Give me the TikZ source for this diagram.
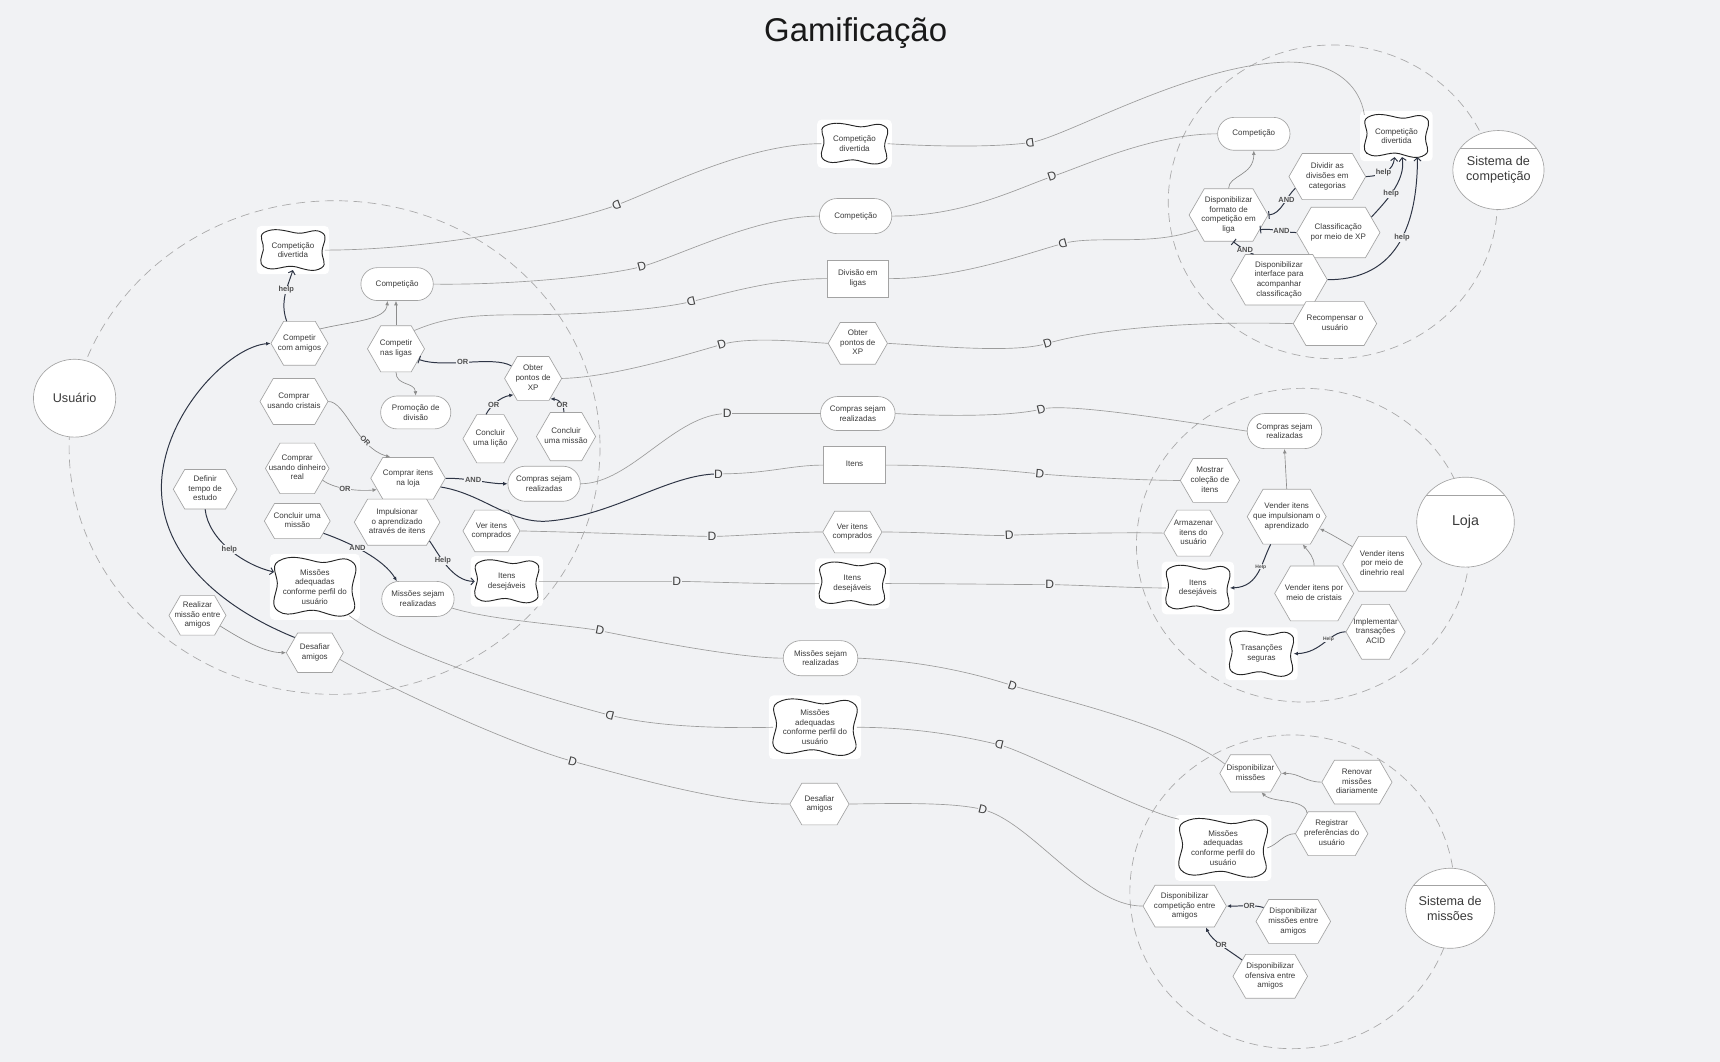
\documentclass[tikz,border=0pt]{standalone}
\usepackage{fontspec}
\setmainfont{Liberation Sans}
\usetikzlibrary{shapes.geometric,shapes.symbols,shapes.misc,arrows.meta}
\definecolor{bg}{HTML}{F1F2F4}
\definecolor{nodeb}{HTML}{A3A3A3}
\definecolor{txt}{HTML}{3A3A3A}
\definecolor{depc}{HTML}{9C9C9C}
\definecolor{lnkc}{HTML}{8C8C8C}
\definecolor{dark}{HTML}{2E3545}
\definecolor{lblc}{HTML}{505050}
\definecolor{bnd}{HTML}{A8A8A8}
\newcommand{\nf}{\fontsize{7.3}{8.8}\selectfont}
\newcommand{\hx}[1]{\makebox[0pt]{\begin{tabular}{@{}c@{}}#1\end{tabular}}}
\newcommand{\sgoal}[6]{%
  \fill[white,rounded corners=4pt] ({#2-#4/2-4},{#3-#5/2-4}) rectangle ({#2+#4/2+4},{#3+#5/2+4});
  \draw[sgline,fill=white,shift={(#2,#3)},xscale=#4/2,yscale=#5/2]
    (-0.9,0.85) .. controls (-0.6,1.15) and (-0.25,0.7) .. (0.1,0.85)
    .. controls (0.4,0.98) and (0.65,1.15) .. (0.9,0.9)
    .. controls (1.1,0.7) and (0.88,0.4) .. (0.92,0)
    .. controls (0.96,-0.4) and (1.12,-0.7) .. (0.9,-0.9)
    .. controls (0.65,-1.15) and (0.4,-0.75) .. (0.05,-0.88)
    .. controls (-0.3,-1.0) and (-0.6,-1.15) .. (-0.9,-0.9)
    .. controls (-1.12,-0.7) and (-0.88,-0.35) .. (-0.93,0)
    .. controls (-0.98,0.35) and (-1.1,0.65) .. cycle;
  \node[font=\nf,text=txt,align=center,inner sep=0pt,minimum width=#4,minimum height=#5] (#1) at (#2,#3) {#6};
}
\tikzset{
 base/.style={draw=nodeb, fill=white, line width=0.6pt, align=center, inner sep=0pt, font=\nf, text=txt},
 task/.style={base, signal, signal to=east and west, signal pointer angle=120},
 goal/.style={base, rounded rectangle},
 res/.style={base, rectangle},
 actor/.style={draw=nodeb, fill=white, line width=0.6pt, ellipse, align=center, font=\fontsize{11.5}{13.5}\selectfont, text=txt, inner sep=0pt},
 bound/.style={draw=bnd, line width=0.6pt, dash pattern=on 8pt off 5pt},
 dep/.style={draw=depc, line width=0.6pt},
 lnk/.style={draw=lnkc, line width=0.6pt},
 dk/.style={draw=dark, line width=0.9pt},
 Dl/.style={sloped, font=\fontsize{11}{11}\selectfont, text=black!75, fill=bg, inner sep=0.4pt},
 lbl/.style={font=\bfseries\fontsize{6.8}{8}\selectfont, text=lblc, fill=bg, inner sep=0.6pt},
 tinylbl/.style={font=\bfseries\fontsize{4.5}{5}\selectfont, text=lblc, fill=bg, inner sep=0.3pt},
 arr/.style={-{Latex[length=4pt,width=3.5pt]}},
 harr/.style={-{Straight Barb[length=3pt,width=6.5pt]}},
 barend/.style={-{Bar[width=7pt]}},
 sgline/.style={draw=black!85, line width=0.85pt}
}
\begin{document}
\begin{tikzpicture}[x=1pt,y=-1pt]
\fill[bg] (0,0) rectangle (1568,968);
\useasboundingbox (0,0) rectangle (1568,968);

\node[font=\fontsize{30}{36}\selectfont, text=black!90] (title) at (780,30) {Gamificação};

% boundaries
\draw[bound] (305,408) ellipse [x radius=242, y radius=225];
\draw[bound] (1215,184) ellipse [x radius=150, y radius=143];
\draw[bound] (1188,497) ellipse [x radius=152, y radius=143];
\draw[bound] (1178,813) ellipse [x radius=148, y radius=143];

% actors
\node[actor, minimum width=75, minimum height=71] (a-usuario) at (68,363) {Usuário};
\node[actor, minimum width=76, minimum height=72] (a-sc) at (1366,155) {Sistema de\\competição};
\draw[nodeb,line width=0.6pt] (a-sc.150) -- (a-sc.30);
\node[actor, minimum width=89, minimum height=82, font=\fontsize{13}{15}\selectfont] (a-loja) at (1336,476) {Loja};
\draw[nodeb,line width=0.6pt] (a-loja.146) -- (a-loja.34);
\node[actor, minimum width=77, minimum height=73] (a-missoes) at (1322,828) {Sistema de\\missões};
\draw[nodeb,line width=0.6pt] (a-missoes.148) -- (a-missoes.32);

% Usuario nodes
\sgoal{u-cd}{267}{228}{58}{36}{Competição\\divertida}
\node[goal, minimum width=66, minimum height=30] (u-comp) at (362,259) {Competição};
\node[task, minimum width=52, minimum height=40] (u-cca) at (273,313) {\hx{Competir\\com amigos}};
\node[task, minimum width=52, minimum height=42] (u-cnl) at (361,318) {\hx{Competir\\nas ligas}};
\node[task, minimum width=52, minimum height=40] (u-xp) at (486,345) {\hx{Obter\\pontos de\\XP}};
\node[goal, minimum width=64, minimum height=30] (u-prom) at (379,376) {Promoção de\\divisão};
\node[task, minimum width=50, minimum height=44] (u-licao) at (447,400) {\hx{Concluir\\uma lição}};
\node[task, minimum width=54, minimum height=44] (u-missao) at (516,398) {\hx{Concluir\\uma missão}};
\node[task, minimum width=62, minimum height=42] (u-crist) at (268,366) {\hx{Comprar\\usando cristais}};
\node[task, minimum width=58, minimum height=46] (u-dinh) at (271,427) {\hx{Comprar\\usando dinheiro\\real}};
\node[task, minimum width=68, minimum height=38] (u-loja) at (372,436) {\hx{Comprar itens\\na loja}};
\node[goal, minimum width=66, minimum height=32] (u-compras) at (496,441) {Compras sejam\\realizadas};
\node[task, minimum width=58, minimum height=36] (u-tempo) at (187,446) {\hx{Definir\\tempo de\\estudo}};
\node[task, minimum width=60, minimum height=32] (u-concm) at (271,475) {\hx{Concluir uma\\missão}};
\node[task, minimum width=78, minimum height=42] (u-impul) at (362,476) {\hx{Impulsionar\\o aprendizado\\através de itens}};
\node[task, minimum width=52, minimum height=38] (u-ver) at (448,484) {\hx{Ver itens\\comprados}};
\sgoal{u-madeq}{287}{535}{74}{52}{Missões\\adequadas\\conforme perfil do\\usuário}
\node[goal, minimum width=66, minimum height=32] (u-msr) at (381,546) {Missões sejam\\realizadas};
\sgoal{u-idesej}{462}{530}{58}{38}{Itens\\desejáveis}
\node[task, minimum width=52, minimum height=36] (u-realiz) at (180,561) {\hx{Realizar\\missão entre\\amigos}};
\node[task, minimum width=52, minimum height=36] (u-desaf) at (287,595) {\hx{Desafiar\\amigos}};

% middle dependums
\sgoal{m-cd}{779}{131}{60}{36}{Competição\\divertida}
\node[goal, minimum width=66, minimum height=32] (m-comp) at (780,197) {Competição};
\node[res, minimum width=56, minimum height=34] (m-div) at (782,254) {Divisão em\\ligas};
\node[task, minimum width=54, minimum height=38] (m-xp) at (782,313) {\hx{Obter\\pontos de\\XP}};
\node[goal, minimum width=68, minimum height=31] (m-compras) at (782,377) {Compras sejam\\realizadas};
\node[res, minimum width=56, minimum height=34] (m-itens) at (779,424) {\raisebox{3pt}{Itens}};
\node[task, minimum width=54, minimum height=38] (m-ver) at (777,485) {\hx{Ver itens\\comprados}};
\sgoal{m-idesej}{777}{532}{60}{38}{Itens\\desejáveis}
\node[goal, minimum width=68, minimum height=32] (m-msr) at (748,600) {Missões sejam\\realizadas};
\sgoal{m-madeq}{743}{663}{76}{50}{Missões\\adequadas\\conforme perfil do\\usuário}
\node[task, minimum width=54, minimum height=38] (m-desaf) at (747,733) {\hx{Desafiar\\amigos}};

% Sistema de competicao
\node[goal, minimum width=66, minimum height=30] (s-comp) at (1143,122) {Competição};
\sgoal{s-cd}{1273}{124}{58}{38}{Competição\\divertida}
\node[task, minimum width=70, minimum height=42] (s-dividir) at (1210,161) {\hx{Dividir as\\divisões em\\categorias}};
\node[task, minimum width=72, minimum height=48] (s-formato) at (1120,196) {\hx{Disponibilizar\\formato de\\competição em\\liga}};
\node[task, minimum width=76, minimum height=46] (s-classif) at (1220,212) {\hx{Classificação\\por meio de XP}};
\node[task, minimum width=88, minimum height=46] (s-interface) at (1166,255) {\hx{Disponibilizar\\interface para\\acompanhar\\classificação}};
\node[task, minimum width=76, minimum height=40] (s-recomp) at (1217,295) {\hx{Recompensar o\\usuário}};

% Loja
\node[goal, minimum width=68, minimum height=32] (l-compras) at (1171,393) {Compras sejam\\realizadas};
\node[task, minimum width=54, minimum height=40] (l-mostrar) at (1103,438) {\hx{Mostrar\\coleção de\\itens}};
\node[task, minimum width=72, minimum height=50] (l-vender) at (1173,471) {\hx{Vender itens\\que impulsionam o\\aprendizado}};
\node[task, minimum width=54, minimum height=42] (l-armaz) at (1088,486) {\hx{Armazenar\\itens do\\usuário}};
\node[task, minimum width=72, minimum height=50] (l-dinh) at (1260,514) {\hx{Vender itens\\por meio de\\dinehrio real}};
\sgoal{l-idesej}{1092}{536}{58}{40}{Itens\\desejáveis}
\node[task, minimum width=72, minimum height=50] (l-crist) at (1198,541) {\hx{Vender itens por\\meio de cristais}};
\node[task, minimum width=54, minimum height=50] (l-acid) at (1254,576) {\hx{Implementar\\transações\\ACID}};
\sgoal{l-trans}{1150}{596}{58}{40}{Trasanções\\seguras}

% Sistema de missoes
\node[task, minimum width=56, minimum height=34] (ms-disp) at (1140,705) {\hx{Disponibilizar\\missões}};
\node[task, minimum width=64, minimum height=40] (ms-renovar) at (1237,713) {\hx{Renovar\\missões\\diariamente}};
\node[task, minimum width=66, minimum height=40] (ms-registrar) at (1214,760) {\hx{Registrar\\preferências do\\usuário}};
\sgoal{ms-madeq}{1115}{773}{80}{52}{Missões\\adequadas\\conforme perfil do\\usuário}
\node[task, minimum width=76, minimum height=38] (ms-compet) at (1080,826) {\hx{Disponibilizar\\competição entre\\amigos}};
\node[task, minimum width=68, minimum height=40] (ms-missoes) at (1179,840) {\hx{Disponibilizar\\missões entre\\amigos}};
\node[task, minimum width=68, minimum height=40] (ms-ofensiva) at (1158,890) {\hx{Disponibilizar\\ofensiva entre\\amigos}};

% dependencies
\draw[dep] (u-cd.east) .. controls (400,228) and (522,202) .. (562,187) .. controls (602,172) and (680,131) .. node[Dl,pos=0] (d1a) {\reflectbox{D}} (m-cd.west);
\draw[dep] (m-cd.east) .. controls (860,134) and (909,134) .. (939,130) .. controls (969,126) and (1080,62) .. node[Dl,pos=0] (d1b) {\reflectbox{D}} (1165,57) .. controls (1215,53) and (1240,78) .. (s-cd.north west);
\draw[dep] (u-comp.east) .. controls (470,260) and (555,251) .. (585,243) .. controls (615,235) and (690,197) .. node[Dl,pos=0] (d2a) {D} (m-comp.west);
\draw[dep] (m-comp.east) .. controls (880,197) and (929,171) .. (959,161) .. controls (989,151) and (1050,122) .. node[Dl,pos=0] (d2b) {D} (s-comp.west);
\draw[dep] (u-cnl.45) .. controls (400,292) and (420,287) .. (470,287) .. controls (540,287) and (600,282) .. (630,275) .. controls (660,268) and (705,254) .. node[Dl,pos=0] (d3a) {\reflectbox{D}} (m-div.west);
\draw[dep] (m-div.east) .. controls (875,254) and (939,230) .. (969,222) .. controls (999,214) and (1050,225) .. node[Dl,pos=0] (d3b) {\reflectbox{D}} (s-formato.205);
\draw[dep] (u-xp.east) .. controls (560,344) and (633,321) .. (658,314) .. controls (683,307) and (725,311) .. node[Dl,pos=0] (d4a) {D} (m-xp.west);
\draw[dep] (m-xp.east) .. controls (860,316) and (925,322) .. (955,313) .. controls (985,304) and (1060,292) .. node[Dl,pos=0] (d4b) {D} (s-recomp.west);
\draw[dep] (u-compras.east) .. controls (575,441) and (615,377) .. (663,377) .. controls (690,377) and (720,377) .. node[Dl,pos=0] (d5a) {D} (m-compras.west);
\draw[dep] (m-compras.east) .. controls (870,380) and (925,379) .. (949,373) .. controls (973,367) and (1070,383) .. node[Dl,pos=0] (d5b) {D} (l-compras.west);
\draw[dep] (655,432) .. controls (700,432) and (720,424) .. (m-itens.west);
\draw[dk] (u-loja.-15) .. controls (440,450) and (465,478) .. (500,475) .. controls (560,470) and (610,432) .. (655,432) node[Dl,pos=1] (d6a) {D};
\draw[dep] (m-itens.east) .. controls (870,424) and (928,430) .. (948,432) .. controls (968,434) and (1040,438) .. node[Dl,pos=0] (d6b) {D} (l-mostrar.west);
\draw[dep] (u-ver.east) .. controls (560,486) and (629,489) .. (649,489) .. controls (669,489) and (715,485) .. node[Dl,pos=0] (d7a) {D} (m-ver.west);
\draw[dep] (m-ver.east) .. controls (850,485) and (900,489) .. (920,488) .. controls (940,487) and (1020,485) .. node[Dl,pos=0] (d7b) {D} (l-armaz.west);
\draw[dep] (u-idesej.east) .. controls (540,530) and (597,530) .. (617,530) .. controls (637,530) and (710,533) .. node[Dl,pos=0] (d8a) {D} (m-idesej.west);
\draw[dep] (m-idesej.east) .. controls (860,532) and (937,533) .. (957,533) .. controls (977,533) and (1030,536) .. node[Dl,pos=0] (d8b) {D} (l-idesej.west);
\draw[dep] (u-msr.-15) .. controls (450,566) and (522,570) .. (547,575) .. controls (572,580) and (670,600) .. node[Dl,pos=0] (d9a) {D} (m-msr.west);
\draw[dep] (m-msr.east) .. controls (850,603) and (898,617) .. (923,625) .. controls (948,633) and (1070,660) .. node[Dl,pos=0] (d9b) {D} (ms-disp.160);
\draw[dep] (u-madeq.-40) .. controls (370,600) and (510,640) .. (556,652) .. controls (600,663) and (660,664) .. node[Dl,pos=0] (d10a) {\reflectbox{D}} (m-madeq.west);
\draw[dep] (m-madeq.east) .. controls (840,663) and (886,673) .. (911,679) .. controls (936,685) and (1040,740) .. node[Dl,pos=0] (d10b) {\reflectbox{D}} (ms-madeq.north west);
\draw[dep] (u-desaf.-15) .. controls (360,630) and (470,680) .. (522,694) .. controls (574,708) and (660,733) .. node[Dl,pos=0] (d11a) {D} (m-desaf.west);
\draw[dep] (m-desaf.east) .. controls (830,732) and (872,732) .. (896,738) .. controls (940,749) and (990,826) .. node[Dl,pos=0] (d11b) {D} (ms-compet.west);

% Usuario internal links
\draw[dk,harr] (u-cca.120) .. controls (255,275) and (262,262) .. node[lbl,pos=0.6] (h1) {help} (u-cd.south);
\draw[lnk,arr] (u-cca.35) .. controls (320,293) and (352,292) .. (u-comp.-120);
\draw[lnk,arr] (u-cnl.north) -- (u-cnl.north |- u-comp.south);
\draw[lnk,arr] (u-cnl.south) .. controls (361,352) and (378,348) .. (u-prom.north);
\draw[dk,barend] (u-xp.150) .. controls (450,324) and (405,336) .. node[lbl,pos=0.55] (or1) {OR} (u-cnl.-25);
\draw[dk,arr] (u-licao.100) .. controls (447,370) and (456,362) .. node[lbl,pos=0.4] (or2) {OR} (u-xp.-140);
\draw[dk,arr] (u-missao.95) .. controls (515,370) and (510,364) .. node[lbl,pos=0.4] (or3) {OR} (u-xp.-50);
\draw[lnk,arr] (u-crist.east) .. controls (315,366) and (325,408) .. node[lbl,sloped,pos=0.7] (or4) {OR} (u-loja.130);
\draw[lnk,arr] (u-dinh.-25) .. controls (305,446) and (328,448) .. node[lbl,pos=0.45] (or5) {OR} (u-loja.-160);
\draw[dk,arr] (u-loja.east) .. controls (430,436) and (445,441) .. node[lbl,pos=0.4] (and1) {AND} (u-compras.west);
\draw[dk,harr] (u-tempo.south) .. controls (190,492) and (222,515) .. node[lbl,pos=0.5] (h2) {help} (u-madeq.160);
\draw[dk,arr] (u-concm.-25) .. controls (320,495) and (350,510) .. node[lbl,pos=0.4] (and2) {AND} (u-msr.140);
\draw[dk,harr] (u-impul.-30) .. controls (400,505) and (412,530) .. node[lbl,pos=0.4] (h3) {Help} (u-idesej.west);
\draw[lnk,arr] (u-realiz.-25) .. controls (228,588) and (245,595) .. (u-desaf.west);
\draw[dk,arr] (u-desaf.143) .. controls (180,545) and (135,485) .. (150,420) .. controls (162,365) and (212,316) .. (u-cca.west);

% Sistema de competicao internal
\draw[lnk,arr] (s-formato.north) .. controls (1120,160) and (1143,160) .. (s-comp.south);
\draw[dk,barend] (s-dividir.-160) .. controls (1172,180) and (1168,195) .. node[lbl,pos=0.35] (and3) {AND} (s-formato.east);
\draw[dk,barend] (s-classif.west) .. controls (1170,212) and (1160,208) .. node[lbl,pos=0.4] (and4) {AND} (s-formato.-25);
\draw[dk,barend] (s-interface.135) .. controls (1138,230) and (1130,225) .. node[lbl,pos=0.45] (and5) {AND} (s-formato.-80);
\draw[dk,harr] (s-dividir.east) .. controls (1262,160) and (1270,155) .. node[lbl,pos=0.4] (h4) {help} (s-cd.-95);
\draw[dk,harr] (s-classif.25) .. controls (1262,185) and (1282,165) .. node[lbl,pos=0.45] (h5) {help} (s-cd.-75);
\draw[dk,harr] (s-interface.east) .. controls (1262,255) and (1292,222) .. node[lbl,pos=0.6] (h6) {help} (s-cd.-45);

% Loja internal
\draw[lnk,arr] (l-vender.north) -- (l-compras.south);
\draw[lnk,arr] (l-dinh.150) .. controls (1222,492) and (1212,486) .. (l-vender.-20);
\draw[lnk,arr] (l-crist.north) .. controls (1198,508) and (1193,503) .. (l-vender.-60);
\draw[dk,arr] (l-vender.-120) .. controls (1150,512) and (1148,535) .. node[tinylbl,pos=0.4] (h7) {Help} (l-idesej.east);
\draw[dk,arr] (l-acid.west) .. controls (1212,576) and (1205,595) .. node[tinylbl,pos=0.4] (h8) {Help} (l-trans.east);

% Missoes internal
\draw[lnk,arr] (ms-renovar.west) .. controls (1190,713) and (1185,705) .. (ms-disp.east);
\draw[lnk,arr] (ms-registrar.140) .. controls (1190,728) and (1160,732) .. (ms-disp.-60);
\draw[lnk] (ms-registrar.west) .. controls (1170,760) and (1165,770) .. (ms-madeq.east);
\draw[dk,arr] (ms-missoes.155) .. controls (1145,825) and (1135,826) .. node[lbl,pos=0.5] (or6) {OR} (ms-compet.east);
\draw[dk,arr] (ms-ofensiva.150) .. controls (1120,866) and (1105,858) .. node[lbl,pos=0.5] (or7) {OR} (ms-compet.-45);
\end{tikzpicture}
\end{document}
